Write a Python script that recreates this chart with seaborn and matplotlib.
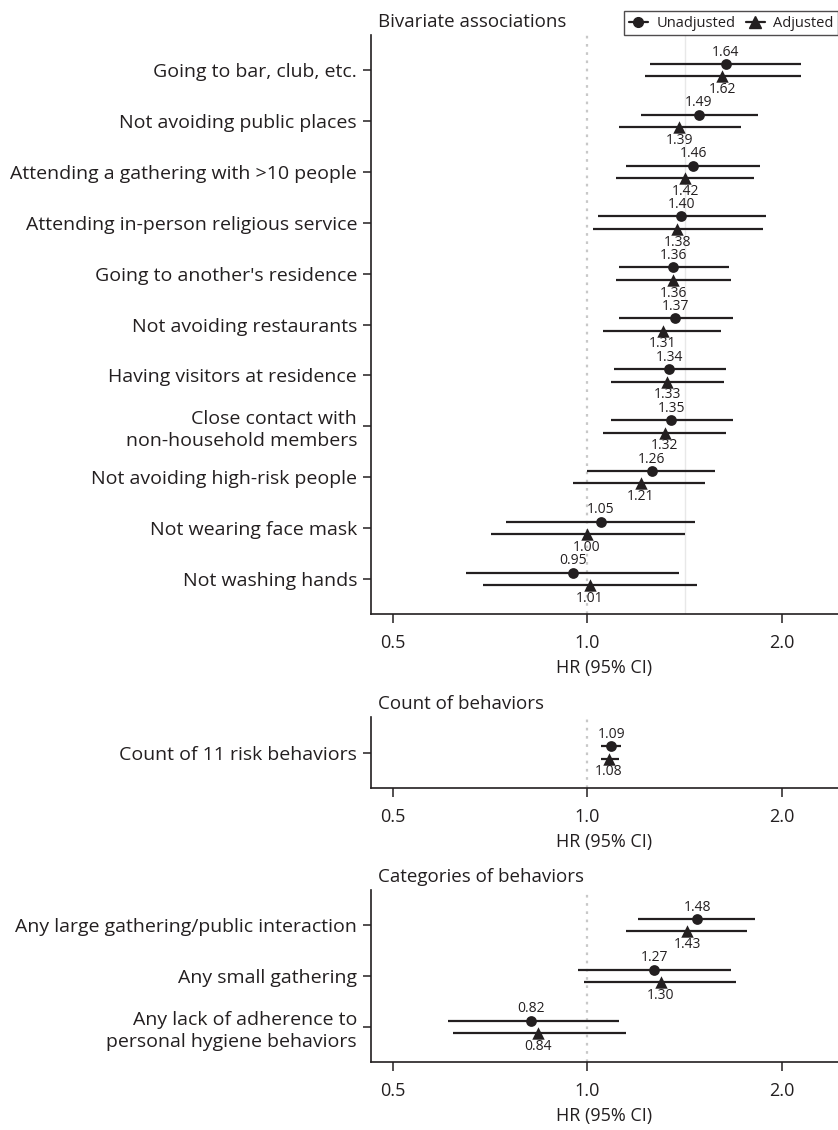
import numpy as np
import pandas as pd
import seaborn as sns
import matplotlib.pyplot as plt
from matplotlib.lines import Line2D
from matplotlib.ticker import NullLocator

# --- data -------------------------------------------------------------
bivar_labels = ["Going to bar, club, etc.", "Not avoiding public places",
                "Attending a gathering with >10 people", "Attending in-person religious service",
                "Going to another's residence", "Not avoiding restaurants",
                "Having visitors at residence", "Close contact with\nnon-household members",
                "Not avoiding high-risk people", "Not wearing face mask", "Not washing hands"]
bivar_unadj_hr = [1.64, 1.49, 1.46, 1.40, 1.36, 1.37, 1.34, 1.35, 1.26, 1.05, 0.95]
bivar_unadj_lo = [1.25, 1.21, 1.15, 1.04, 1.12, 1.12, 1.10, 1.09, 1.00, 0.75, 0.65]
bivar_unadj_hi = [2.14, 1.84, 1.85, 1.89, 1.66, 1.68, 1.64, 1.68, 1.58, 1.47, 1.39]
bivar_adj_hr = [1.62, 1.39, 1.42, 1.38, 1.36, 1.31, 1.33, 1.32, 1.21, 1.00, 1.01]
bivar_adj_lo = [1.23, 1.12, 1.11, 1.02, 1.11, 1.06, 1.09, 1.06, 0.95, 0.71, 0.69]
bivar_adj_hi = [2.14, 1.73, 1.81, 1.87, 1.67, 1.61, 1.63, 1.64, 1.52, 1.42, 1.48]

count_labels = ["Count of 11 risk behaviors"]
count_unadj_hr = [1.09]
count_unadj_lo = [1.05]
count_unadj_hi = [1.13]
count_adj_hr = [1.08]
count_adj_lo = [1.05]
count_adj_hi = [1.12]

cat_labels = ["Any large gathering/public interaction", "Any small gathering",
              "Any lack of adherence to\npersonal hygiene behaviors"]
cat_unadj_hr = [1.48, 1.27, 0.82]
cat_unadj_lo = [1.20, 0.97, 0.61]
cat_unadj_hi = [1.82, 1.67, 1.12]
cat_adj_hr = [1.43, 1.30, 0.84]
cat_adj_lo = [1.15, 0.99, 0.62]
cat_adj_hi = [1.77, 1.70, 1.15]

xticks = [0.5, 1.0, 2.0]
xtick_labels = ["0.5", "1.0", "2.0"]

# ----------------------------------------------------------------------
sns.set_theme(style="ticks")
plt.rcParams['font.family'] = ['Open Sans', 'DejaVu Sans']
ink = '#231f20'
plt.rcParams['text.color'] = ink
plt.rcParams['axes.labelcolor'] = ink
plt.rcParams['xtick.color'] = ink
plt.rcParams['ytick.color'] = ink
plt.rcParams['axes.edgecolor'] = ink

fig = plt.figure(figsize=(8.38, 11.3), dpi=100)
H = 1130.0
L = 371 / 838.0


def panel(top, bottom):
    return fig.add_axes([L, 1 - bottom / H, 1 - L, (bottom - top) / H])


def draw(ax, labels, uh, ul, uu, ah, al, au, title, extra=None):
    n = len(labels)
    pos = np.arange(n)
    df = pd.DataFrame({"y": np.concatenate([pos - 0.125, pos + 0.125]),
                       "hr": uh + ah, "lo": ul + al, "hi": uu + au,
                       "model": ["Unadjusted"] * n + ["Adjusted"] * n})
    ax.axvline(1.0, color='#c8c8c8', lw=1.6, ls=(0, (1.2, 2.5)), zorder=0)
    if extra:
        ax.axvline(extra, color='#e8e8e8', lw=1, zorder=0)
    ax.hlines(df["y"], df["lo"], df["hi"], color=ink, lw=1.6, zorder=2)
    u = df[df.model == "Unadjusted"]
    a = df[df.model == "Adjusted"]
    sns.scatterplot(data=u, x="hr", y="y", marker="o", s=60, color=ink,
                    linewidth=0, ax=ax, zorder=3, legend=False)
    sns.scatterplot(data=a, x="hr", y="y", marker="^", s=80, color=ink,
                    linewidth=0, ax=ax, zorder=3, legend=False)
    for _, r in u.iterrows():
        ax.annotate(f"{r.hr:.2f}", (r.hr, r.y), xytext=(0, 3), textcoords='offset points',
                    ha='center', va='bottom', fontsize=10)
    for _, r in a.iterrows():
        ax.annotate(f"{r.hr:.2f}", (r.hr, r.y), xytext=(0, -4), textcoords='offset points',
                    ha='center', va='top', fontsize=10)
    ax.set_xscale('log')
    ax.set_xlim(0.463, 2.446)
    ax.set_ylim(n - 1 + 0.69, -0.69)
    ax.set_xticks(xticks)
    ax.set_xticklabels(xtick_labels, fontsize=13)
    ax.xaxis.set_minor_locator(NullLocator())
    ax.set_yticks(pos)
    ax.set_yticklabels(labels, fontsize=14, linespacing=1.3)
    ax.tick_params(axis='x', length=6.5, width=1.1, pad=8)
    ax.tick_params(axis='y', length=6, width=1.1, pad=4)
    ax.set_xlabel("HR (95% CI)", fontsize=13, labelpad=5)
    ax.set_ylabel("")
    for s in ["left", "bottom"]:
        ax.spines[s].set_linewidth(1.2)
    sns.despine(ax=ax)
    ax.annotate(title, (0, 1), xycoords='axes fraction', xytext=(5, 6),
                textcoords='offset points', ha='left', va='baseline', fontsize=13.5)


ax1 = panel(35, 614)
draw(ax1, bivar_labels, bivar_unadj_hr, bivar_unadj_lo, bivar_unadj_hi,
     bivar_adj_hr, bivar_adj_lo, bivar_adj_hi, "Bivariate associations", extra=1.42)

ax2 = panel(717, 788)
draw(ax2, count_labels, count_unadj_hr, count_unadj_lo, count_unadj_hi,
     count_adj_hr, count_adj_lo, count_adj_hi, "Count of behaviors")

ax3 = panel(890, 1062)
draw(ax3, cat_labels, cat_unadj_hr, cat_unadj_lo, cat_unadj_hi,
     cat_adj_hr, cat_adj_lo, cat_adj_hi, "Categories of behaviors")

handles = [Line2D([], [], color=ink, marker='o', markersize=7, lw=1.6, label="Unadjusted"),
           Line2D([], [], color=ink, marker='^', markersize=8, lw=1.6, label="Adjusted")]
leg = fig.legend(handles=handles, loc='lower right', bbox_to_anchor=(1.0, 1 - 35 / H),
                 ncol=2, fontsize=10.5, frameon=True, fancybox=False, handlelength=1.3,
                 handletextpad=0.6, columnspacing=0.7, borderpad=0.3, borderaxespad=0)
leg.get_frame().set_edgecolor(ink)
leg.get_frame().set_linewidth(1.0)

fig.savefig("out.png", dpi=100)
